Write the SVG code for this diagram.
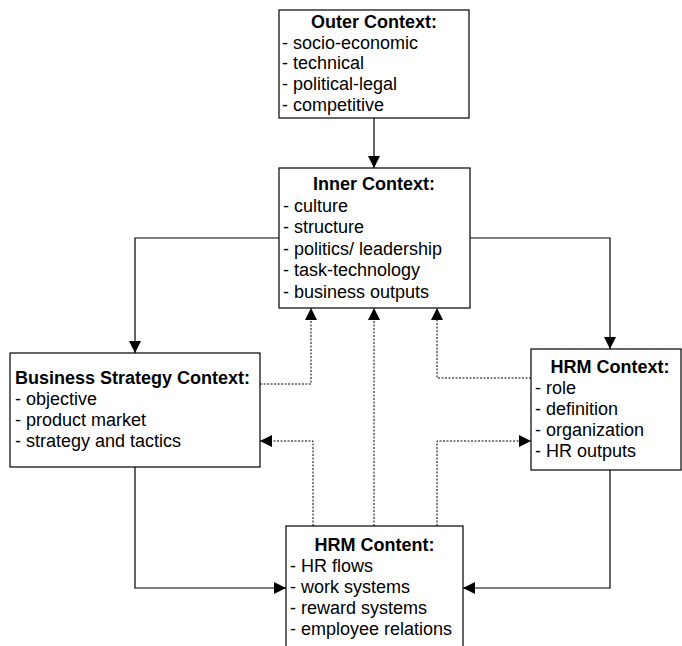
<svg xmlns="http://www.w3.org/2000/svg" width="682" height="646" viewBox="0 0 682 646">
<style>
  .box { fill: #ffffff; stroke: #000000; stroke-width: 1.2; }
  .t { font-family: "Liberation Sans", Arial, sans-serif; font-size: 18px; fill: #000000; }
  .h { font-weight: bold; text-anchor: middle; }
  .solid { fill: none; stroke: #000000; stroke-width: 1.2; }
  .dot { fill: none; stroke: #000000; stroke-width: 1; stroke-dasharray: 2 1.5; }
</style>
<defs>
  <marker id="arr" viewBox="0 0 12 12" refX="12" refY="6" markerWidth="12" markerHeight="12" markerUnits="userSpaceOnUse" orient="auto">
    <path d="M0,0 L12,6 L0,12 Z" fill="#000000"/>
  </marker>
</defs>

<g id="connectors">
  <path class="solid" d="M374,118 L374,168" marker-end="url(#arr)"/>
  <path class="solid" d="M279,238 L135,238 L135,353" marker-end="url(#arr)"/>
  <path class="solid" d="M470,238 L610,238 L610,349" marker-end="url(#arr)"/>
  <path class="solid" d="M135,467 L135,588 L286,588" marker-end="url(#arr)"/>
  <path class="solid" d="M610,470 L610,588 L463,588" marker-end="url(#arr)"/>
  <path class="dot" d="M260,384 L311,384 L311,308" marker-end="url(#arr)"/>
  <path class="dot" d="M313,526 L313,441 L260,441" marker-end="url(#arr)"/>
  <path class="dot" d="M374,526 L374,308" marker-end="url(#arr)"/>
  <path class="dot" d="M531,378 L437,378 L437,308" marker-end="url(#arr)"/>
  <path class="dot" d="M437,526 L437,441 L531,441" marker-end="url(#arr)"/>
</g>

<g id="outer-context">
  <rect class="box" x="279" y="10" width="190" height="108"/>
  <text class="t h" x="374" y="28">Outer Context:</text>
  <text class="t" x="282" y="48.7">- socio-economic</text>
  <text class="t" x="282" y="69.4">- technical</text>
  <text class="t" x="282" y="90.1">- political-legal</text>
  <text class="t" x="282" y="110.8">- competitive</text>
</g>

<g id="inner-context">
  <rect class="box" x="279" y="168" width="191" height="140"/>
  <text class="t h" x="374" y="190">Inner Context:</text>
  <text class="t" x="283" y="211.5">- culture</text>
  <text class="t" x="283" y="233">- structure</text>
  <text class="t" x="283" y="254.5">- politics/ leadership</text>
  <text class="t" x="283" y="276">- task-technology</text>
  <text class="t" x="283" y="297.5">- business outputs</text>
</g>

<g id="business-strategy-context">
  <rect class="box" x="10" y="353" width="250" height="114"/>
  <text class="t" x="15" y="384" font-weight="bold">Business Strategy Context:</text>
  <text class="t" x="15" y="405">- objective</text>
  <text class="t" x="15" y="426">- product market</text>
  <text class="t" x="15" y="447">- strategy and tactics</text>
</g>

<g id="hrm-context">
  <rect class="box" x="531" y="349" width="150" height="121"/>
  <text class="t h" x="610" y="373">HRM Context:</text>
  <text class="t" x="535" y="394">- role</text>
  <text class="t" x="535" y="415">- definition</text>
  <text class="t" x="535" y="436">- organization</text>
  <text class="t" x="535" y="457">- HR outputs</text>
</g>

<g id="hrm-content">
  <rect class="box" x="286" y="526" width="177" height="130"/>
  <text class="t h" x="374.5" y="551">HRM Content:</text>
  <text class="t" x="290" y="572">- HR flows</text>
  <text class="t" x="290" y="593">- work systems</text>
  <text class="t" x="290" y="614">- reward systems</text>
  <text class="t" x="290" y="635">- employee relations</text>
</g>
</svg>
